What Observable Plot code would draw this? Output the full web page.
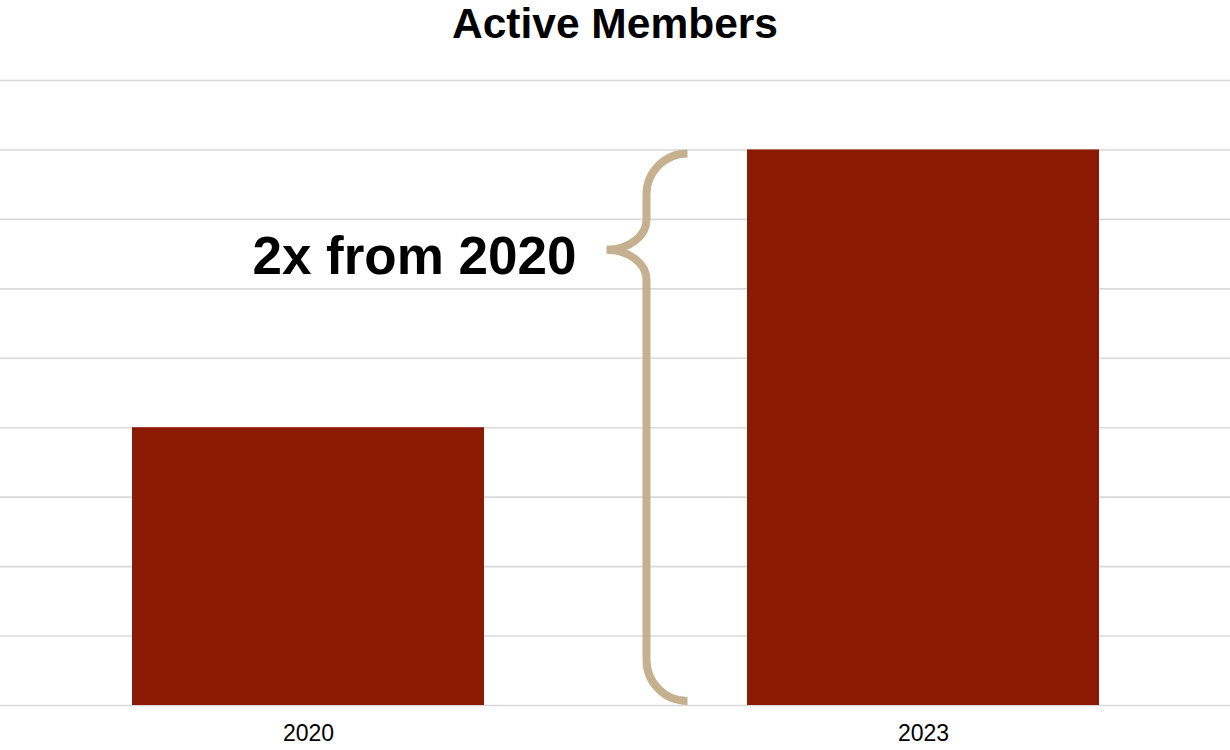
<!DOCTYPE html>
<html>
<head>
<meta charset="utf-8">
<script src="https://cdn.jsdelivr.net/npm/d3@7"></script>
<script src="https://cdn.jsdelivr.net/npm/@observablehq/plot@0.6"></script>
<style>
  html, body { margin: 0; padding: 0; background: #fff; }
  #title { height: 55px; line-height: 50px; text-align: center; font: bold 42.5px "Liberation Sans", Arial, sans-serif; color: #000; }
  svg { display: block; }
</style>
</head>
<body>
<div id="title">Active Members</div>
<div id="chart"></div>
<script>
const years = ["2020", "2023"];
const members = [4, 8];
const gridTicks = [0, 1, 2, 3, 4, 5, 6, 7, 8, 9];
const chartTitle = "Active Members";

const data = years.map((y, i) => ({year: y, value: members[i]}));
document.getElementById("title").textContent = chartTitle;

function brace(index, scales, values, dims) {
  const x = scales.x, y = scales.y;
  const bw = x.bandwidth ? x.bandwidth() : 351;
  const gapL = x(years[0]) + bw, gapR = x(years[1]);
  const c = (gapL + gapR) / 2;
  const sx = c + 31, tx = c + 72, mx = c - 9;
  const top = y(members[1]) + 4, bot = y(0) - 4;
  const mid = top + 0.176 * (bot - top);
  const r = tx - sx, k = 0.552, rv = 30, rh = sx - mx;
  const path = [
    `M${tx},${top}`,
    `C${tx - k * r},${top} ${sx},${top + r - k * r} ${sx},${top + r}`,
    `L${sx},${mid - rv}`,
    `C${sx},${mid - rv + k * rv} ${mx + k * rh},${mid} ${mx},${mid}`,
    `C${mx + k * rh},${mid} ${sx},${mid + rv - k * rv} ${sx},${mid + rv}`,
    `L${sx},${bot - r}`,
    `C${sx},${bot - r + k * r} ${tx - k * r},${bot} ${tx},${bot}`
  ].join(" ");
  const g = d3.create("svg:g");
  g.append("path").attr("d", path).attr("fill", "none")
    .attr("stroke", "#c5b08f").attr("stroke-width", 8);
  g.append("text")
    .attr("x", mx - 30).attr("y", mid + 24)
    .attr("text-anchor", "end")
    .attr("font-family", "'Liberation Sans', Arial, sans-serif")
    .attr("font-weight", "bold").attr("font-size", 53).attr("fill", "#000")
    .text(`${members[1] / members[0]}x from ${years[0]}`);
  return g.node();
}

const chart = Plot.plot({
  width: 1230,
  height: 695,
  marginTop: 25,
  marginBottom: 45,
  marginLeft: 0,
  marginRight: 0,
  style: {fontFamily: "'Liberation Sans', Arial, sans-serif", fontSize: "23px", color: "#000", background: "#fff"},
  x: {domain: years, paddingInner: 0.428, paddingOuter: 0.214, label: null, tickSize: 0, tickPadding: 19},
  y: {domain: [0, 9], axis: null},
  marks: [
    Plot.ruleY(gridTicks, {stroke: "#d9d9d9", strokeWidth: 1.6}),
    Plot.barY(data, {x: "year", y: "value", fill: "#8b1a02"}),
    brace
  ]
});
document.getElementById("chart").appendChild(chart);
</script>
</body>
</html>
